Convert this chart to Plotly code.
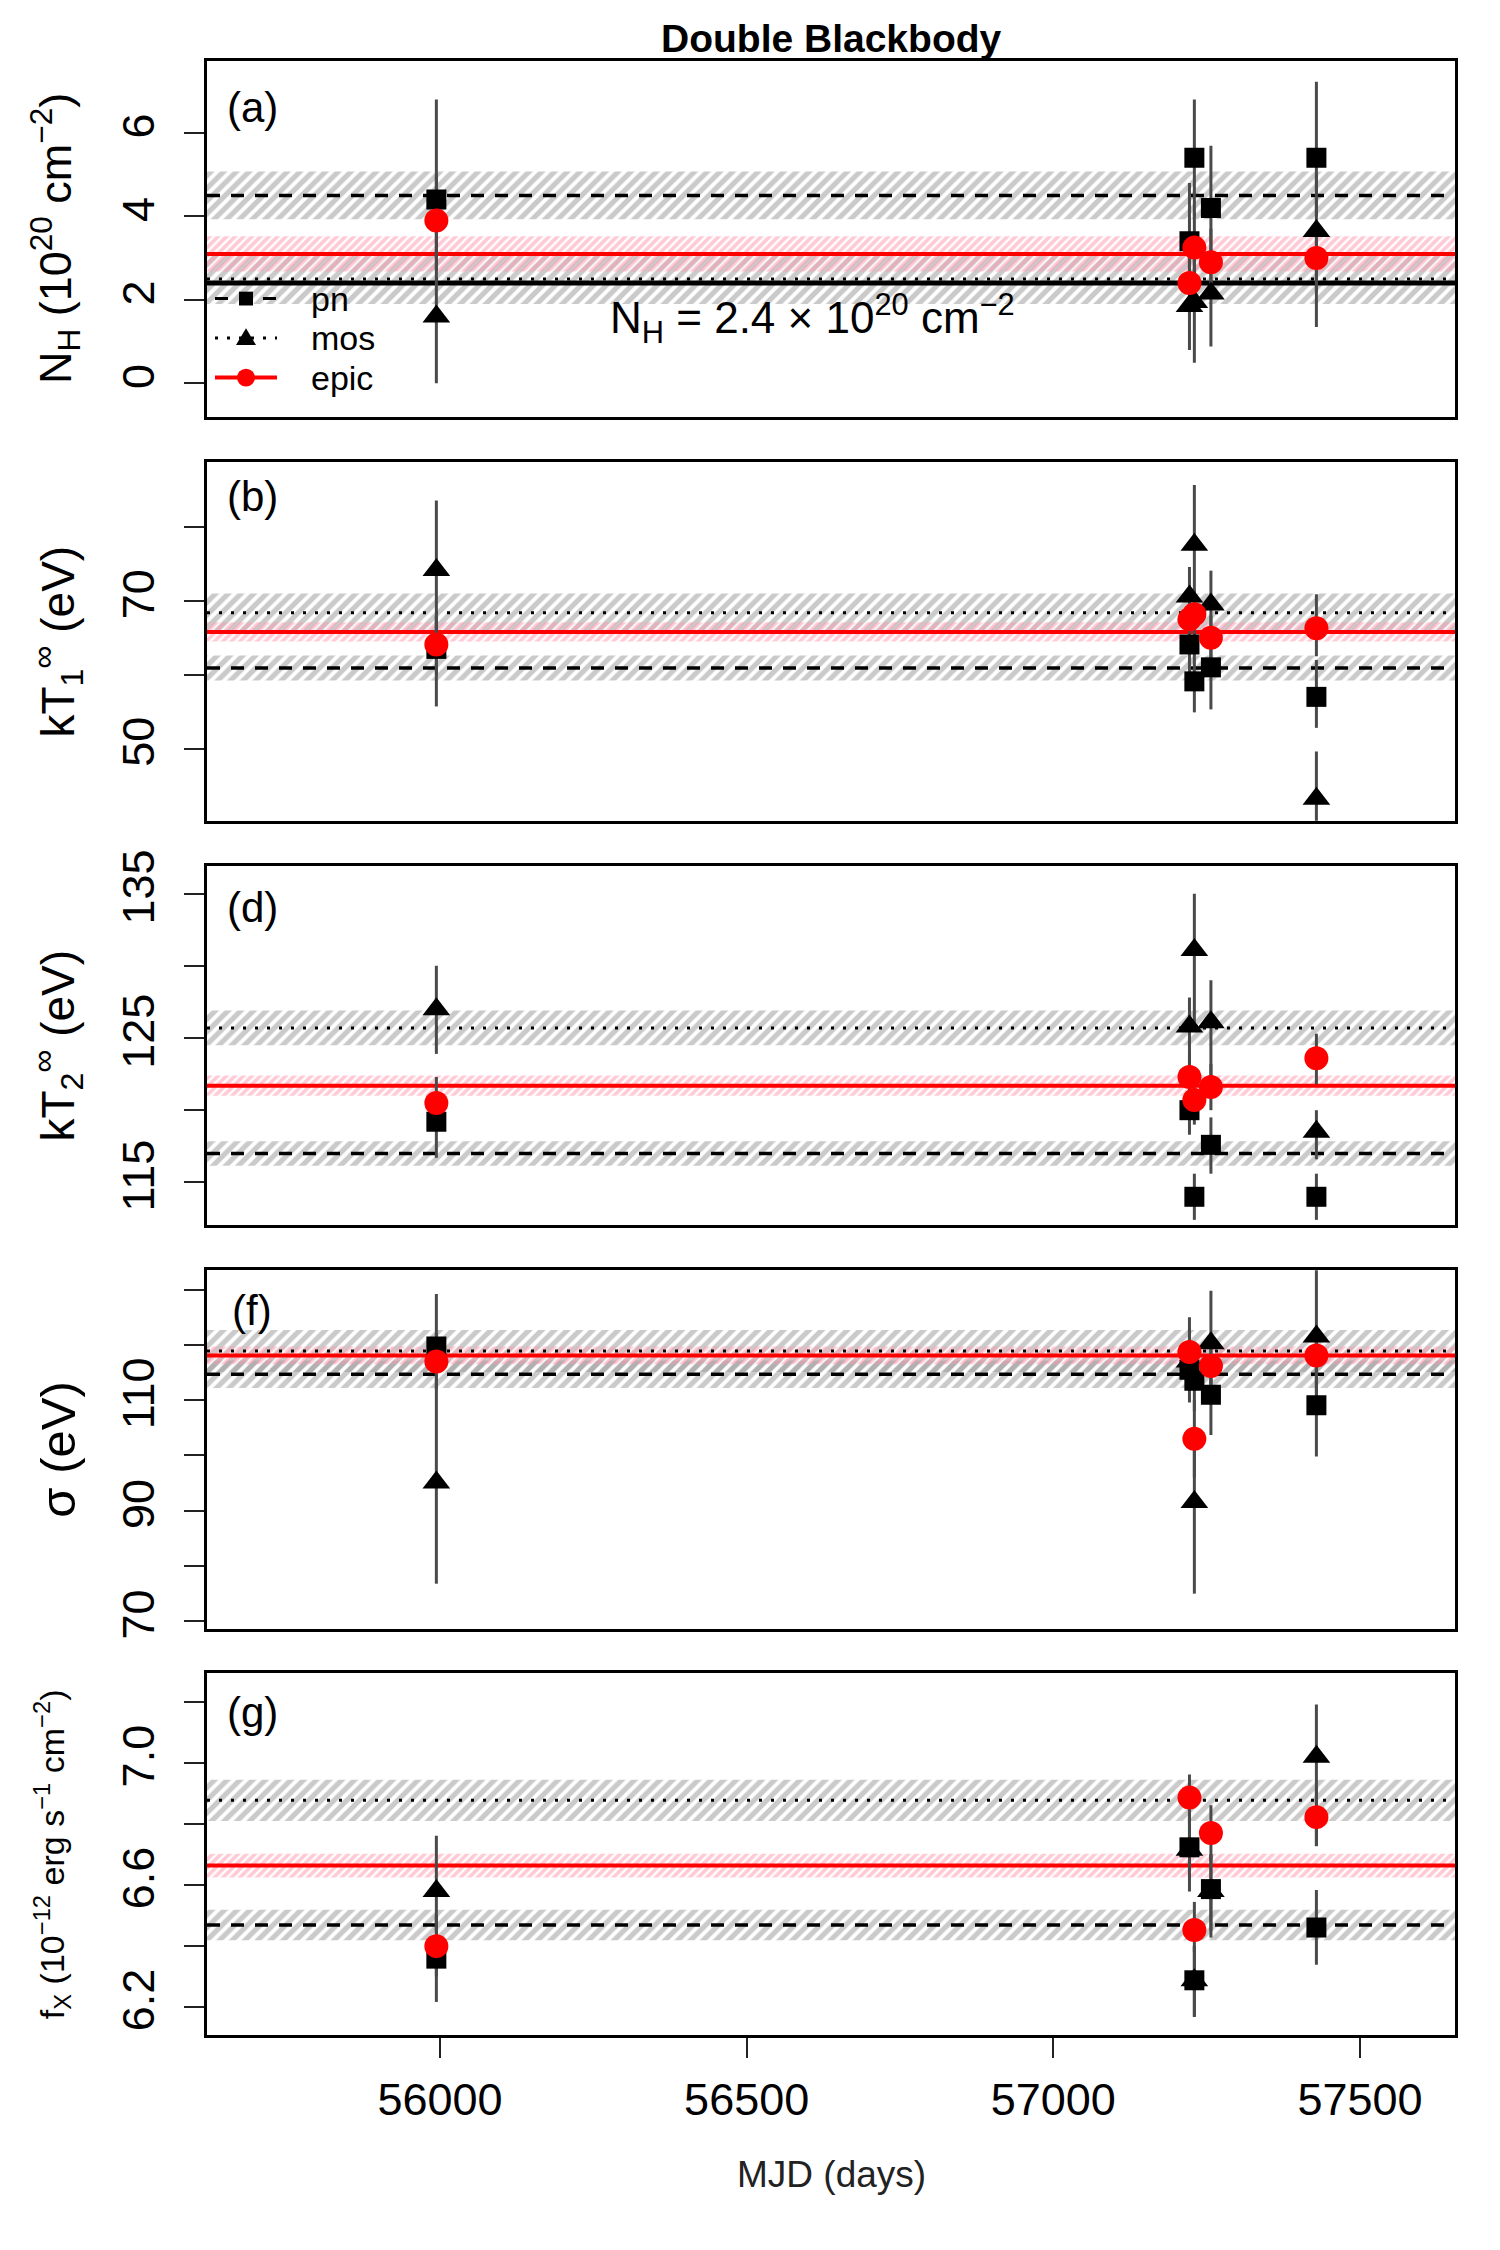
import plotly.graph_objects as go

W, H = 1500, 2250
FONT = "Liberation Sans, Arial, sans-serif"

# ---------------- data ----------------
mjd = [55994, 57222, 57230, 57257, 57429]
x_range = [55620, 57655]
x_ticks = [56000, 56500, 57000, 57500]
x_ticktext = ["56000", "56500", "57000", "57500"]

# (a) N_H (1e20 cm^-2)
nh_pn = [4.4, 3.4, 5.4, 4.2, 5.4]
nh_pn_lo = [3.0, 2.0, 4.0, 3.0, 4.0]
nh_pn_hi = [6.8, 4.8, 6.8, 5.69, 7.22]
nh_mos = [1.6, 1.85, 1.95, 2.15, 3.65]
nh_mos_lo = [0.0, 0.8, 0.49, 0.88, 1.35]
nh_mos_hi = [3.2, 3.0, 3.2, 3.2, 5.0]
nh_epic = [3.9, 2.4, 3.25, 2.9, 3.0]
nh_epic_lo = [2.7, 1.6, 2.4, 2.1, 2.2]
nh_epic_hi = [5.0, 3.3, 4.1, 3.7, 3.8]
nh_mean = [4.5, 2.5, 3.1]          # pn, mos, epic
nh_mean_err = [0.57, 0.6, 0.42]
nh_fixed = 2.4
nh_yrange = [-0.81, 7.72]
nh_ticks = [0, 2, 4, 6]
nh_minor = []

# (b) kT1 (eV)
kt1_pn = [63.5, 64.1, 59.1, 61.0, 57.0]
kt1_pn_lo = [55.7, 59.0, 54.9, 55.3, 52.8]
kt1_pn_hi = [68.0, 69.0, 63.5, 66.0, 62.0]
kt1_mos = [74.2, 70.6, 77.6, 69.5, 43.2]
kt1_mos_lo = [65.0, 66.0, 70.0, 65.0, 37.0]
kt1_mos_hi = [83.6, 74.6, 85.7, 74.1, 49.6]
kt1_epic = [64.1, 67.5, 68.2, 65.0, 66.3]
kt1_epic_lo = [60.0, 64.0, 65.0, 62.0, 62.5]
kt1_epic_hi = [68.0, 71.0, 71.5, 68.0, 70.9]
kt1_mean = [60.9, 68.4, 65.8]
kt1_mean_err = [1.7, 2.6, 1.3]
kt1_yrange = [40.2, 88.8]
kt1_ticks = [50, 70]
kt1_minor = [60, 80]

# (d) kT2 (eV)
kt2_pn = [119.2, 120.0, 114.0, 117.6, 114.0]
kt2_pn_lo = [116.7, 118.3, 112.4, 115.6, 112.4]
kt2_pn_hi = [121.0, 121.5, 115.6, 119.5, 115.6]
kt2_mos = [127.0, 125.8, 131.1, 126.1, 118.5]
kt2_mos_lo = [123.9, 122.0, 126.0, 122.0, 116.6]
kt2_mos_hi = [130.0, 127.8, 135.0, 129.0, 120.0]
kt2_epic = [120.5, 122.3, 120.7, 121.6, 123.6]
kt2_epic_lo = [119.0, 120.5, 119.0, 120.0, 121.8]
kt2_epic_hi = [122.3, 124.0, 122.5, 123.2, 125.3]
kt2_mean = [117.0, 125.7, 121.7]
kt2_mean_err = [0.85, 1.2, 0.7]
kt2_yrange = [112.05, 136.9]
kt2_ticks = [115, 125, 135]
kt2_minor = [120, 130]

# (f) sigma (eV)
sig_pn = [119.7, 115.5, 113.5, 111.0, 109.1]
sig_pn_lo = [112.0, 109.6, 108.0, 103.7, 99.8]
sig_pn_hi = [129.2, 120.0, 118.0, 117.0, 117.0]
sig_mos = [95.1, 117.0, 91.6, 120.3, 121.5]
sig_mos_lo = [76.8, 112.0, 75.0, 113.0, 110.0]
sig_mos_hi = [112.0, 125.0, 105.0, 129.8, 134.0]
sig_epic = [117.0, 118.7, 103.0, 116.2, 118.1]
sig_epic_lo = [112.0, 114.0, 96.0, 110.0, 113.0]
sig_epic_hi = [122.0, 123.0, 110.0, 122.0, 123.0]
sig_mean = [114.7, 118.9, 118.1]
sig_mean_err = [2.5, 3.8, 1.6]
sig_yrange = [68.6, 133.5]
sig_ticks = [70, 90, 110]
sig_minor = [80, 100, 120, 130]

# (g) flux (1e-12 erg/s/cm2)
fx_pn = [6.358, 6.723, 6.287, 6.586, 6.460]
fx_pn_lo = [6.216, 6.62, 6.167, 6.427, 6.338]
fx_pn_hi = [6.50, 6.82, 6.40, 6.70, 6.583]
fx_mos = [6.580, 6.715, 6.287, 6.580, 7.020]
fx_mos_lo = [6.45, 6.578, 6.167, 6.45, 6.727]
fx_mos_hi = [6.761, 6.85, 6.40, 6.70, 7.191]
fx_epic = [6.399, 6.886, 6.452, 6.770, 6.822]
fx_epic_lo = [6.30, 6.80, 6.38, 6.68, 6.727]
fx_epic_hi = [6.50, 6.962, 6.544, 6.861, 6.92]
fx_mean = [6.468, 6.877, 6.663]
fx_mean_err = [0.05, 0.068, 0.039]
fx_yrange = [6.106, 7.295]
fx_ticks = [6.2, 6.6, 7.0]
fx_minor = [6.4, 6.8, 7.2]

legend_names = ["pn", "mos", "epic"]

# ---------------- layout geometry (pixels) ----------------
plot_left, plot_right = 207, 1455
panel_px = [(44.5, 405), (450.6, 813.6), (859.6, 1222.6), (1268.5, 1631.6), (1676, 2043)]

panels = [
    dict(tag="(a)", pn=(nh_pn, nh_pn_lo, nh_pn_hi), mos=(nh_mos, nh_mos_lo, nh_mos_hi),
         epic=(nh_epic, nh_epic_lo, nh_epic_hi), mean=nh_mean, merr=nh_mean_err,
         yr=nh_yrange, tv=nh_ticks, mv=nh_minor, fmt="%d",
         ylab="N<sub>H</sub> (10<sup>20</sup> cm<sup>\u22122</sup>)", ysize=45, yx=55),
    dict(tag="(b)", pn=(kt1_pn, kt1_pn_lo, kt1_pn_hi), mos=(kt1_mos, kt1_mos_lo, kt1_mos_hi),
         epic=(kt1_epic, kt1_epic_lo, kt1_epic_hi), mean=kt1_mean, merr=kt1_mean_err,
         yr=kt1_yrange, tv=kt1_ticks, mv=kt1_minor, fmt="%d",
         ylab="kT<sub>1</sub><sup>\u221e</sup> (eV)", ysize=46, yx=58),
    dict(tag="(d)", pn=(kt2_pn, kt2_pn_lo, kt2_pn_hi), mos=(kt2_mos, kt2_mos_lo, kt2_mos_hi),
         epic=(kt2_epic, kt2_epic_lo, kt2_epic_hi), mean=kt2_mean, merr=kt2_mean_err,
         yr=kt2_yrange, tv=kt2_ticks, mv=kt2_minor, fmt="%d",
         ylab="kT<sub>2</sub><sup>\u221e</sup> (eV)", ysize=46, yx=58),
    dict(tag="(f)", pn=(sig_pn, sig_pn_lo, sig_pn_hi), mos=(sig_mos, sig_mos_lo, sig_mos_hi),
         epic=(sig_epic, sig_epic_lo, sig_epic_hi), mean=sig_mean, merr=sig_mean_err,
         yr=sig_yrange, tv=sig_ticks, mv=sig_minor, fmt="%d",
         ylab="\u03c3 (eV)", ysize=49, yx=58),
    dict(tag="(g)", pn=(fx_pn, fx_pn_lo, fx_pn_hi), mos=(fx_mos, fx_mos_lo, fx_mos_hi),
         epic=(fx_epic, fx_epic_lo, fx_epic_hi), mean=fx_mean, merr=fx_mean_err,
         yr=fx_yrange, tv=fx_ticks, mv=fx_minor, fmt="%.1f",
         ylab="f<sub>X</sub> (10<sup>\u221212</sup> erg s<sup>\u22121</sup> cm<sup>\u22122</sup>)",
         ysize=34, yx=52),
]

GRAY_HATCH = "rgb(150,150,150)"
PINK_HATCH = "rgb(255,150,172)"
ERR_COLOR = "#4a4a4a"
DASH = "13px,11px"
DOT = "3px,9px"

fig = go.Figure()
layout = dict(
    width=W, height=H, margin=dict(l=0, r=0, t=0, b=0),
    paper_bgcolor="white", plot_bgcolor="white",
    font=dict(family=FONT, color="black"),
    showlegend=False,
)
annotations = []
shapes = []

for i, p in enumerate(panels):
    n = i + 1
    xa = "x" if n == 1 else f"x{n}"
    ya = "y" if n == 1 else f"y{n}"
    top, bot = panel_px[i]
    last = (n == len(panels))

    bx = [x_range[0], x_range[1], x_range[1], x_range[0], x_range[0]]
    band_styles = [(GRAY_HATCH, 9, 0.58), (GRAY_HATCH, 9, 0.58), (PINK_HATCH, 6, 0.62)]
    for k in range(3):
        m, e = p["mean"][k], p["merr"][k]
        fg, sz, sol = band_styles[k]
        fig.add_trace(go.Scatter(
            x=bx, y=[m - e, m - e, m + e, m + e, m - e], mode="lines", fill="toself",
            line=dict(width=0, color="rgba(0,0,0,0)"), fillcolor="rgba(0,0,0,0)",
            fillpattern=dict(shape="/", fgcolor=fg, bgcolor="rgba(0,0,0,0)", size=sz, solidity=sol),
            xaxis=xa, yaxis=ya, showlegend=False, hoverinfo="skip"))

    line_styles = [dict(color="black", width=3.5, dash=DASH),
                   dict(color="black", width=3, dash=DOT),
                   dict(color="#ff0000", width=4)]
    for k in range(3):
        m = p["mean"][k]
        fig.add_trace(go.Scatter(x=x_range, y=[m, m], mode="lines", line=line_styles[k],
                                 xaxis=xa, yaxis=ya, showlegend=False, hoverinfo="skip"))
    if n == 1:
        fig.add_trace(go.Scatter(x=x_range, y=[nh_fixed, nh_fixed], mode="lines",
                                 line=dict(color="black", width=5),
                                 xaxis=xa, yaxis=ya, showlegend=False, hoverinfo="skip"))

    for key in ("pn", "mos", "epic"):
        v, lo, hi = p[key]
        fig.add_trace(go.Scatter(
            x=mjd, y=v, mode="markers", marker=dict(size=1, color="rgba(0,0,0,0)"),
            error_y=dict(type="data", symmetric=False,
                         array=[h - a for h, a in zip(hi, v)],
                         arrayminus=[a - l for a, l in zip(v, lo)],
                         color=ERR_COLOR, thickness=3, width=0),
            xaxis=xa, yaxis=ya, showlegend=False, hoverinfo="skip"))

    mk = dict(pn=dict(symbol="square", size=20, color="black"),
              mos=dict(symbol="triangle-up", size=24, color="black"),
              epic=dict(symbol="circle", size=24, color="#ff0000"))
    for key in ("pn", "mos", "epic"):
        v = p[key][0]
        fig.add_trace(go.Scatter(x=mjd, y=v, mode="markers",
                                 marker=dict(mk[key], line=dict(width=0)),
                                 xaxis=xa, yaxis=ya, showlegend=False, name=key))

    dom_y = [1 - bot / H, 1 - top / H]
    xkey = "xaxis" if n == 1 else f"xaxis{n}"
    ykey = "yaxis" if n == 1 else f"yaxis{n}"
    layout[xkey] = dict(
        domain=[plot_left / W, plot_right / W], range=x_range, anchor=ya,
        showline=True, mirror=True, linecolor="black", linewidth=3,
        showgrid=False, zeroline=False,
        ticks="outside" if last else "", ticklen=20, tickwidth=2, tickcolor="#222",
        tickmode="array", tickvals=x_ticks if last else [], ticktext=x_ticktext if last else [],
        showticklabels=last,
        tickfont=dict(size=45, family=FONT, color="black"), ticklabelstandoff=3)
    ydict = dict(
        domain=dom_y, range=p["yr"], anchor=xa,
        showline=True, mirror=True, linecolor="black", linewidth=3,
        showgrid=False, zeroline=False,
        ticks="outside", ticklen=20, tickwidth=2, tickcolor="#222",
        tickmode="array", tickvals=p["tv"], ticktext=[p["fmt"] % t for t in p["tv"]],
        tickangle=-90,
        tickfont=dict(size=45, family=FONT, color="black"), ticklabelstandoff=12)
    if p["mv"]:
        ydict["minor"] = dict(tickmode="array", tickvals=p["mv"], ticks="outside",
                              ticklen=20, tickwidth=2, tickcolor="#222", showgrid=False)
    layout[ykey] = ydict

    annotations.append(dict(
        text=p["ylab"], x=p["yx"] / W, y=1 - (top + bot) / 2 / H, xref="paper", yref="paper",
        xanchor="center", yanchor="middle", textangle=-90, showarrow=False,
        font=dict(size=p["ysize"], family=FONT, color="black")))
    tag_y = [92, 485, 901, 1309, 1716][i]
    annotations.append(dict(
        text=p["tag"], x=252 / W, y=1 - tag_y / H, xref="paper", yref="paper",
        xanchor="center", yanchor="middle", showarrow=False,
        font=dict(size=42, family=FONT, color="black")))

# ---------------- legend (panel a, drawn manually) ----------------
def px(xp):
    return xp / W

def py(yp):
    return 1 - yp / H

leg_rows = [285, 325, 365]
leg_x0, leg_x1, leg_sym, leg_txt = 215, 277, 246, 309
leg_lines = [dict(color="black", width=3, dash=DASH), dict(color="black", width=3, dash=DOT),
             dict(color="#ff0000", width=4)]
for k, name in enumerate(legend_names):
    yy = leg_rows[k]
    shapes.append(dict(type="line", xref="paper", yref="paper", x0=px(leg_x0), x1=px(leg_x1),
                       y0=py(yy), y1=py(yy), line=leg_lines[k], layer="above"))
    annotations.append(dict(text=name, x=px(leg_txt), y=py(yy), xref="paper", yref="paper",
                            xanchor="left", yanchor="middle", showarrow=False,
                            font=dict(size=34, family=FONT, color="black")))
shapes.append(dict(type="rect", xref="paper", yref="paper", x0=px(leg_sym - 7), x1=px(leg_sym + 7),
                   y0=py(leg_rows[0] - 7), y1=py(leg_rows[0] + 7),
                   fillcolor="black", line=dict(width=0), layer="above"))
ty = leg_rows[1]
shapes.append(dict(type="path", xref="paper", yref="paper",
                   path=f"M {px(leg_sym - 10)} {py(ty + 7)} L {px(leg_sym + 10)} {py(ty + 7)} "
                        f"L {px(leg_sym)} {py(ty - 10)} Z",
                   fillcolor="black", line=dict(width=0), layer="above"))
shapes.append(dict(type="circle", xref="paper", yref="paper", x0=px(leg_sym - 9), x1=px(leg_sym + 9),
                   y0=py(leg_rows[2] - 9), y1=py(leg_rows[2] + 9),
                   fillcolor="#ff0000", line=dict(width=0), layer="above"))

# N_H annotation
annotations.append(dict(
    text="N<sub>H</sub> = 2.4 \u00d7 10<sup>20</sup> cm<sup>\u22122</sup>",
    x=608 / W, y=1 - 305 / H, xref="paper", yref="paper", xanchor="left", yanchor="middle",
    showarrow=False, font=dict(size=44, family=FONT, color="black")))
# main title
annotations.append(dict(
    text="<b>Double Blackbody</b>", x=831 / W, y=1 - 22 / H, xref="paper", yref="paper",
    xanchor="center", yanchor="middle", showarrow=False,
    font=dict(size=39, family=FONT, color="black")))
# x-axis title
annotations.append(dict(
    text="MJD (days)", x=831 / W, y=1 - 2184 / H, xref="paper", yref="paper",
    xanchor="center", yanchor="middle", showarrow=False,
    font=dict(size=37, family=FONT, color="#222")))

layout["annotations"] = annotations
layout["shapes"] = shapes
fig.update_layout(**layout)
fig.write_html("out.html")
